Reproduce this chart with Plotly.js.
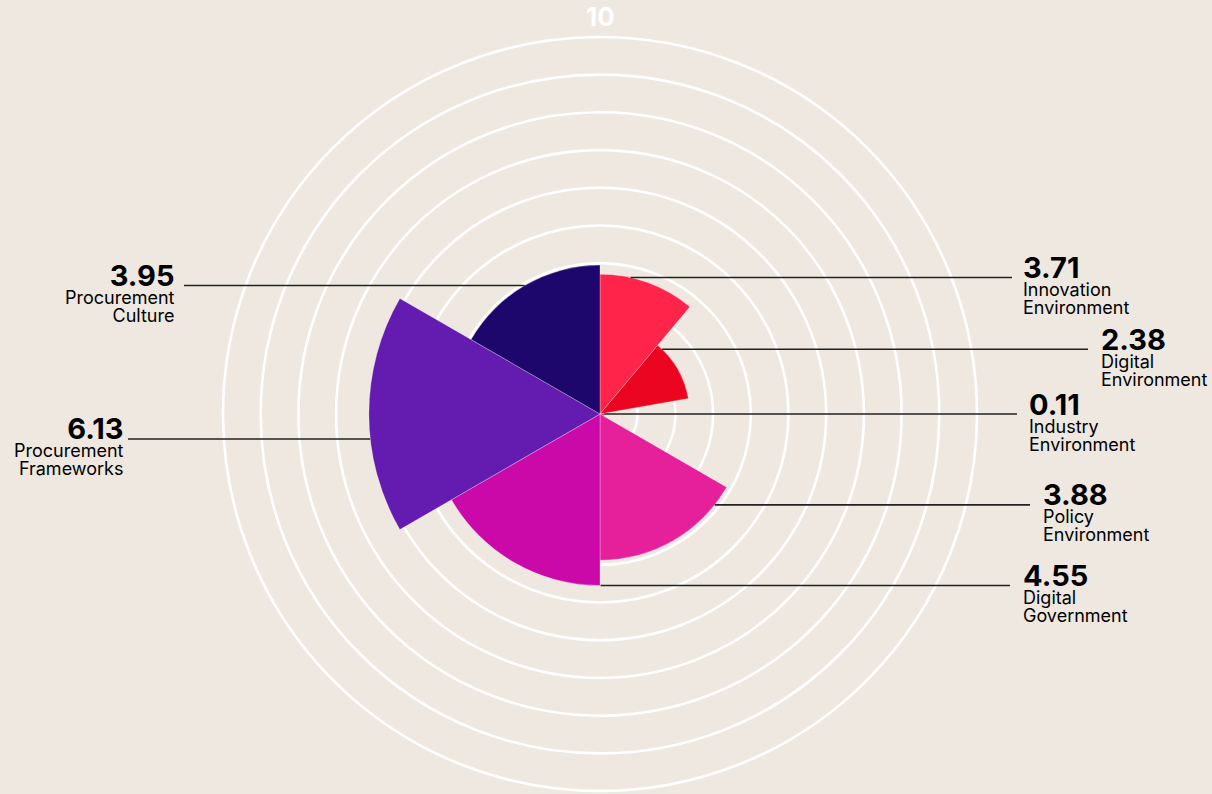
<!DOCTYPE html>
<html>
<head>
<meta charset="utf-8">
<script src="https://cdn.plot.ly/plotly-3.0.1.min.js"></script>
<style>
  html, body { margin: 0; padding: 0; background: #EEE8E1; }
  #chart { width: 1212px; height: 794px; }
</style>
</head>
<body>
<div id="chart"></div>
<script>
// ---- data ----
const categories = [
  'Innovation Environment',
  'Digital Environment',
  'Industry Environment',
  'Policy Environment',
  'Digital Government',
  'Procurement Frameworks',
  'Procurement Culture'
];
const scores = [3.71, 2.38, 0.11, 3.88, 4.55, 6.13, 3.95];
const sectorWidths = [40, 40, 40, 60, 60, 60, 60];
const barColors = ['#FF2449', '#EB0520', '#F2127A', '#E5209A', '#CB09A9', '#631BB0', '#1D076C'];
const radialMax = 10;
const gridValues = [1, 2, 3, 4, 5, 6, 7, 8, 9, 10];

// ---- layout constants (pixels) ----
const W = 1212, H = 794;
const CX = 600, CY = 414, R = 377;
const connectorAngle = [12.6, 43.8, 90, 128.4, 179.8, 263.8, 329.6];
const connectorEndX = [1012, 1088, 1017, 1030, 1010, 128, 184];
const labelX = [1021, 1099, 1027, 1041, 1021, 125.5, 177];
const BG = '#EEE8E1';

// theta centres from cumulative widths
const thetas = [];
let acc = 0;
sectorWidths.forEach(w => { thetas.push(acc + w / 2); acc += w; });

const trace = {
  type: 'barpolar',
  r: scores,
  theta: thetas,
  width: sectorWidths,
  marker: { color: barColors, line: { color: 'rgba(255,255,255,0.35)', width: 0.8 } },
  hoverinfo: 'skip'
};

const px = x => x / W;
const py = y => 1 - y / H;
function polarToPixel(v, deg) {
  const r = v / radialMax * R;
  const a = deg * Math.PI / 180;
  return [CX + r * Math.sin(a), CY - r * Math.cos(a)];
}

const annotations = [];
const shapes = [];

categories.forEach((cat, i) => {
  const [bx, by] = polarToPixel(scores[i], connectorAngle[i]);
  const right = connectorAngle[i] <= 180;
  const endX = connectorEndX[i];
  shapes.push({
    type: 'line', xref: 'paper', yref: 'paper',
    x0: px(bx), y0: py(by), x1: px(endX), y1: py(by),
    line: { color: '#222', width: 1.6 }
  });
  const words = cat.split(' ');
  const text =
    '<span style="font-size:29px"><b>' + scores[i].toFixed(2) + '</b></span><br>' +
    '<span style="font-size:18px">' + words[0] + '</span><br>' +
    '<span style="font-size:18px">' + words.slice(1).join(' ') + '</span>';
  annotations.push({
    xref: 'paper', yref: 'paper', x: px(labelX[i]), y: py(by + 6.5),
    xanchor: right ? 'left' : 'right', align: right ? 'left' : 'right',
    yanchor: 'middle', showarrow: false,
    text: text,
    font: { family: 'Inter, sans-serif', size: 14, color: '#000' }
  });
});

// outer value label
annotations.push({
  xref: 'paper', yref: 'paper', x: px(CX), y: py(CY - R - 20.5),
  xanchor: 'center', yanchor: 'middle', showarrow: false,
  text: '<b>' + String(radialMax) + '</b>',
  font: { family: 'Inter, sans-serif', size: 26, color: '#FFFFFF' }
});

const layout = {
  width: W, height: H,
  margin: { l: 0, r: 0, t: 0, b: 0 },
  paper_bgcolor: BG,
  plot_bgcolor: BG,
  showlegend: false,
  polar: {
    domain: { x: [(CX - R) / W, (CX + R) / W], y: [(H - CY - R) / H, (H - CY + R) / H] },
    bgcolor: BG,
    radialaxis: {
      range: [0, radialMax],
      tickvals: gridValues,
      showticklabels: false,
      ticks: '',
      showline: false,
      gridcolor: '#FFFFFF',
      gridwidth: 2.6
    },
    angularaxis: {
      rotation: 90,
      direction: 'clockwise',
      showgrid: false,
      showticklabels: false,
      ticks: '',
      showline: true,
      linecolor: '#FFFFFF',
      linewidth: 2.6
    }
  },
  annotations: annotations,
  shapes: shapes
};

Plotly.newPlot('chart', [trace], layout, { displayModeBar: false, staticPlot: true });
</script>
</body>
</html>
